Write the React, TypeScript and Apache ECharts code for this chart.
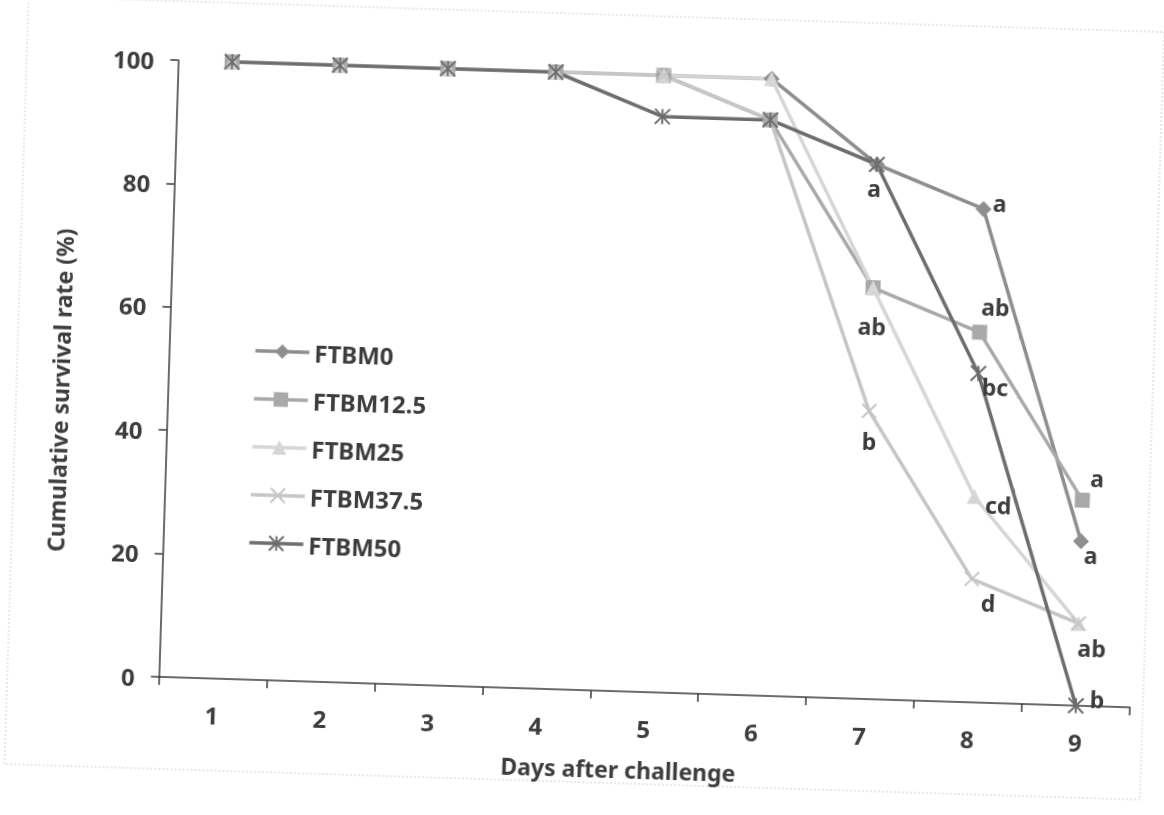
import React, { useEffect, useRef } from "react";
import * as echarts from "echarts";

const days = ["1", "2", "3", "4", "5", "6", "7", "8", "9"];
const seriesNames = ["FTBM0", "FTBM12.5", "FTBM25", "FTBM37.5", "FTBM50"];

const ftbm0 = [100, 100, 100, 100, 100, 100, 86.67, 80, 26.67];
const ftbm125 = [100, 100, 100, 100, 100, 93.33, 66.67, 60, 33.33];
const ftbm25 = [100, 100, 100, 100, 100, 100, 66.67, 33.33, 13.33];
const ftbm375 = [100, 100, 100, 100, 100, 93.33, 46.67, 20, 13.33];
const ftbm50 = [100, 100, 100, 100, 93.33, 93.33, 86.67, 53.33, 0];

const letters0 = ["", "", "", "", "", "", "a", "a", "a"];
const letters125 = ["", "", "", "", "", "", "ab", "ab", "a"];
const letters25 = ["", "", "", "", "", "", "", "cd", "ab"];
const letters375 = ["", "", "", "", "", "", "b", "d", ""];
const letters50 = ["", "", "", "", "", "", "", "bc", "b"];

const yMin = 0;
const yMax = 100;
const yInterval = 20;

const FONT = "Noto Sans";
const TXT = "#3d3d3d";

const X_SYMBOL = "path://M0,0L10,10M10,0L0,10";
const STAR_SYMBOL = "path://M5,0L5,10M0,0L10,10M10,0L0,10";

// label placements (styling only)
const labelOffsets: Record<string, ([number, number] | null)[]> = {
  FTBM0: [null, null, null, null, null, null, [-2, 24], [16, -6], [10, 14]],
  "FTBM12.5": [null, null, null, null, null, null, [0, 38], [15, -26], [14, -22]],
  FTBM25: [null, null, null, null, null, null, null, [24, 8], [14, 24]],
  "FTBM37.5": [null, null, null, null, null, null, [1, 30], [17, 23], null],
  FTBM50: [null, null, null, null, null, null, null, [17, 13], [21, -7]],
};

const styles: Record<string, { color: string; symbol: string; size: number; stroke?: boolean }> = {
  FTBM0: { color: "#8e8e8e", symbol: "diamond", size: 16 },
  "FTBM12.5": { color: "#a9a9a9", symbol: "rect", size: 15 },
  FTBM25: { color: "#d6d6d6", symbol: "triangle", size: 15 },
  "FTBM37.5": { color: "#c6c6c6", symbol: X_SYMBOL, size: 14, stroke: true },
  FTBM50: { color: "#6d6d6d", symbol: STAR_SYMBOL, size: 15, stroke: true },
};

export default function App() {
  const ref = useRef<HTMLDivElement>(null);
  useEffect(() => {
    if (!ref.current) return;
    const chart = echarts.init(ref.current, undefined, { renderer: "svg" });
    const values = [ftbm0, ftbm125, ftbm25, ftbm375, ftbm50];
    const letters = [letters0, letters125, letters25, letters375, letters50];

    const series = seriesNames.map((name, si) => {
      const st = styles[name];
      const offs = labelOffsets[name];
      return {
        name,
        type: "line",
        symbol: st.symbol,
        symbolSize: st.size,
        lineStyle: { color: st.color, width: 3.5 },
        itemStyle: st.stroke
          ? { color: st.color, borderColor: st.color, borderWidth: 2 }
          : { color: st.color, borderColor: st.color, borderWidth: 0 },
        data: values[si].map((v, i) =>
          letters[si][i]
            ? {
                value: v,
                label: {
                  show: true,
                  formatter: letters[si][i],
                  position: "inside",
                  offset: offs[i] || [0, 0],
                  color: TXT,
                  fontFamily: FONT,
                  fontWeight: "bold",
                  fontSize: 23,
                },
              }
            : v
        ),
      };
    });

    chart.setOption({
      animation: false,
      backgroundColor: "#ffffff",
      textStyle: { fontFamily: FONT },
      grid: { left: 167.5, right: 25, top: 73, bottom: 125, containLabel: false },
      legend: {
        orient: "vertical",
        left: 247,
        top: 343,
        itemWidth: 54,
        itemHeight: 18,
        itemGap: 22,
        data: seriesNames,
        lineStyle: { width: 3.5 },
        textStyle: {
          color: TXT,
          fontFamily: FONT,
          fontWeight: "bold",
          fontSize: 24,
          lineHeight: 26,
        },
      },
      xAxis: {
        type: "category",
        data: days,
        boundaryGap: true,
        name: "Days after challenge",
        nameLocation: "middle",
        nameGap: 66,
        nameTextStyle: {
          color: TXT,
          fontFamily: FONT,
          fontWeight: "bold",
          fontSize: 23,
          padding: [0, 48, 0, 0],
        },
        axisLine: { show: true, lineStyle: { color: "#3a3a3a", width: 1.5 } },
        axisTick: { show: true, alignWithLabel: false, length: 8, lineStyle: { color: "#3a3a3a", width: 1.5 } },
        axisLabel: { color: TXT, fontFamily: FONT, fontWeight: "bold", fontSize: 24, margin: 24 },
        splitLine: { show: false },
      },
      yAxis: {
        type: "value",
        min: yMin,
        max: yMax,
        interval: yInterval,
        name: "Cumulative survival rate (%)",
        nameLocation: "middle",
        nameRotate: 90,
        nameGap: 96,
        nameTextStyle: {
          color: TXT,
          fontFamily: FONT,
          fontWeight: "bold",
          fontSize: 23,
          padding: [0, 50, 0, 0],
        },
        axisLine: { show: true, lineStyle: { color: "#3a3a3a", width: 1.5 } },
        axisTick: { show: true, length: 8, lineStyle: { color: "#3a3a3a", width: 1.5 } },
        axisLabel: { color: TXT, fontFamily: FONT, fontWeight: "bold", fontSize: 24, margin: 24 },
        splitLine: { show: false },
      },
      graphic: [
        {
          type: "rect",
          silent: true,
          z: -10,
          shape: { x: 16, y: 14, width: 1136, height: 768 },
          style: { fill: "none", stroke: "#cfcfcf", lineWidth: 1, lineDash: [2, 2] },
        },
      ],
      series,
    });
    return () => chart.dispose();
  }, []);

  return (
    <div
      ref={ref}
      style={{
        position: "fixed",
        left: 0,
        top: 0,
        width: 1164,
        height: 815,
        transform: "rotate(1.8deg)",
        transformOrigin: "582px 407px",
      }}
    />
  );
}
